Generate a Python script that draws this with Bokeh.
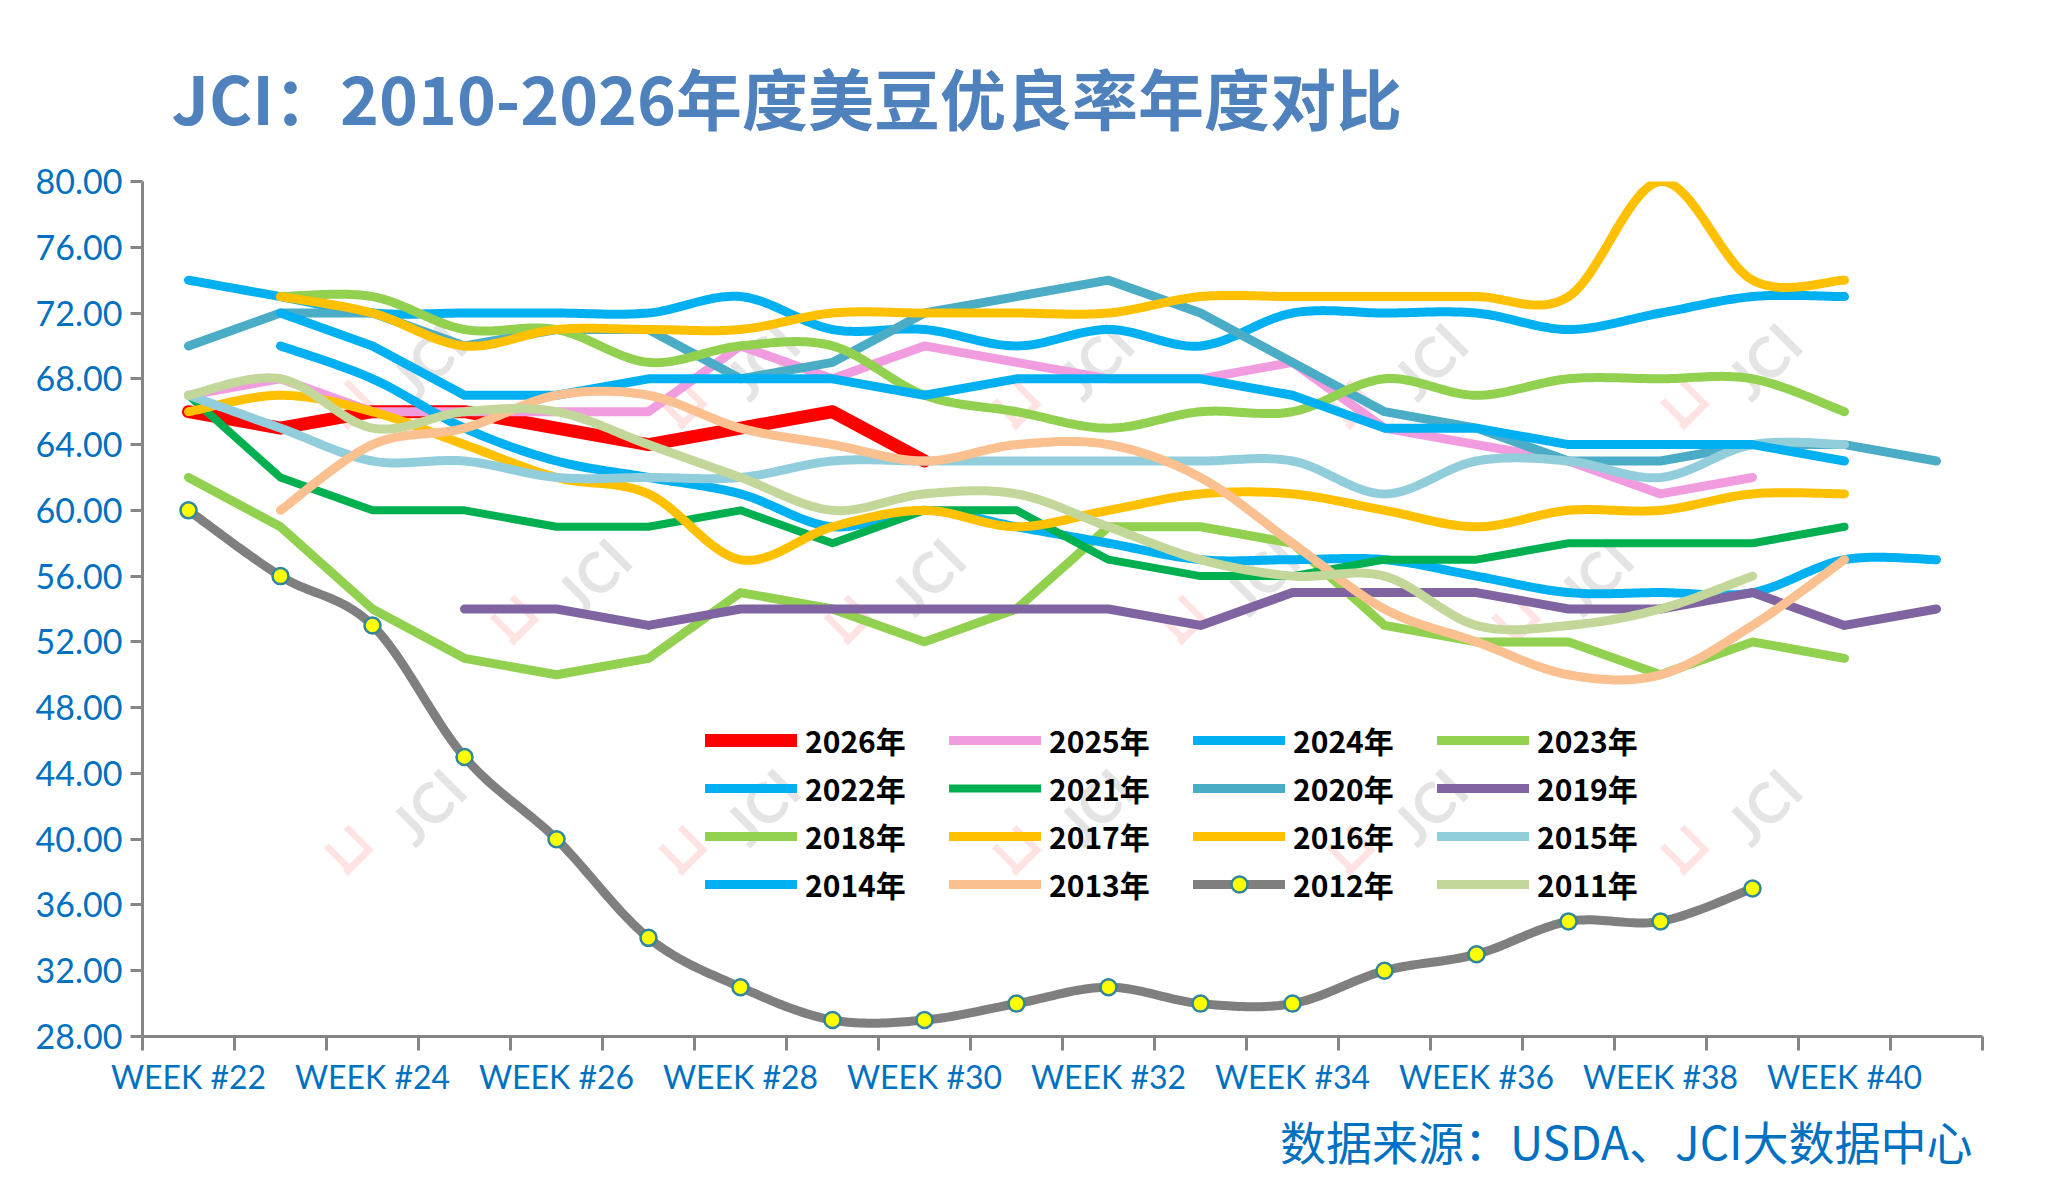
import numpy as np
from bokeh.plotting import figure
from bokeh.models import FixedTicker, Legend, LegendItem, NumeralTickFormatter, Range1d, Title
from bokeh.core.properties import value
from bokeh.embed import file_html
from bokeh.resources import INLINE

# ---------------- data ----------------
weeks = ["WEEK #22", "WEEK #23", "WEEK #24", "WEEK #25", "WEEK #26", "WEEK #27", "WEEK #28",
         "WEEK #29", "WEEK #30", "WEEK #31", "WEEK #32", "WEEK #33", "WEEK #34", "WEEK #35",
         "WEEK #36", "WEEK #37", "WEEK #38", "WEEK #39", "WEEK #40", "WEEK #41"]
N = None
y2026 = [66, 65, 66, 66, 65, 64, 65, 66, 63, N, N, N, N, N, N, N, N, N, N, N]
y2025 = [67, 68, 66, 66, 66, 66, 70, 68, 70, 69, 68, 68, 69, 65, 64, 63, 61, 62, N, N]
y2024 = [74, 73, 72, 72, 72, 72, 73, 71, 71, 70, 71, 70, 72, 72, 72, 71, 72, 73, 73, N]
y2023 = [62, 59, 54, 51, 50, 51, 55, 54, 52, 54, 59, 59, 58, 53, 52, 52, 50, 52, 51, N]
y2022 = [N, 70, 68, 65, 63, 62, 61, 59, 60, 59, 58, 57, 57, 57, 56, 55, 55, 55, 57, 57]
y2021 = [67, 62, 60, 60, 59, 59, 60, 58, 60, 60, 57, 56, 56, 57, 57, 58, 58, 58, 59, N]
y2020 = [70, 72, 72, 70, 71, 71, 68, 69, 72, 73, 74, 72, 69, 66, 65, 63, 63, 64, 64, 63]
y2019 = [N, N, N, 54, 54, 53, 54, 54, 54, 54, 54, 53, 55, 55, 55, 54, 54, 55, 53, 54]
y2018 = [N, 73, 73, 71, 71, 69, 70, 70, 67, 66, 65, 66, 66, 68, 67, 68, 68, 68, 66, N]
y2017 = [66, 67, 66, 64, 62, 61, 57, 59, 60, 59, 60, 61, 61, 60, 59, 60, 60, 61, 61, N]
y2016 = [N, 73, 72, 70, 71, 71, 71, 72, 72, 72, 72, 73, 73, 73, 73, 73, 80, 74, 74, N]
y2015 = [67, 65, 63, 63, 62, 62, 62, 63, 63, 63, 63, 63, 63, 61, 63, 63, 62, 64, 64, N]
y2014 = [N, 72, 70, 67, 67, 68, 68, 68, 67, 68, 68, 68, 67, 65, 65, 64, 64, 64, 63, N]
y2013 = [N, 60, 64, 65, 67, 67, 65, 64, 63, 64, 64, 62, 58, 54, 52, 50, 50, 53, 57, N]
y2012 = [60, 56, 53, 45, 40, 34, 31, 29, 29, 30, 31, 30, 30, 32, 33, 35, 35, 37, N, N]
y2011 = [67, 68, 65, 66, 66, 64, 62, 60, 61, 61, 59, 57, 56, 56, 53, 53, 54, 56, N, N]

y_ticks = [28, 32, 36, 40, 44, 48, 52, 56, 60, 64, 68, 72, 76, 80]
title_text = "JCI：2010-2026年度美豆优良率年度对比"
source_text = "数据来源：USDA、JCI大数据中心"

# (label, values, colour, width, smoothed)
series = [
    ("2026年", y2026, "#FF0000", 13, False),
    ("2025年", y2025, "#F09CDF", 9, False),
    ("2024年", y2024, "#00B0F0", 9, True),
    ("2023年", y2023, "#92D050", 9, False),
    ("2022年", y2022, "#00B0F0", 9, True),
    ("2021年", y2021, "#00B050", 8, False),
    ("2020年", y2020, "#4BACC6", 9, False),
    ("2019年", y2019, "#8064A2", 9, False),
    ("2018年", y2018, "#92D050", 9, True),
    ("2017年", y2017, "#FFC000", 9, True),
    ("2016年", y2016, "#FFC000", 9, True),
    ("2015年", y2015, "#92CDDC", 9, True),
    ("2014年", y2014, "#00B0F0", 9, False),
    ("2013年", y2013, "#FAC090", 9, True),
    ("2012年", y2012, "#7F7F7F", 9, True),
    ("2011年", y2011, "#C4D79B", 9, True),
]

# watermark placement (decoration only)
wm_x = [2.6, 6.23, 9.86, 13.49, 17.12, 4.4, 8.03, 11.66, 15.29, 2.6, 6.23, 9.86, 13.49, 17.12]
wm_y = [69.1, 69.1, 69.1, 69.1, 69.1, 56.0, 56.0, 56.0, 56.0, 42.0, 42.0, 42.0, 42.0, 42.0]


def smooth_curve(xs, ys, n=24):
    """Excel-like smoothed line (cubic Bezier, Catmull-Rom control points)."""
    m = len(xs)
    if m < 3:
        return list(xs), list(ys)
    ox, oy = [], []
    for i in range(m - 1):
        x0, y0 = xs[max(i - 1, 0)], ys[max(i - 1, 0)]
        x1, y1 = xs[i], ys[i]
        x2, y2 = xs[i + 1], ys[i + 1]
        x3, y3 = xs[min(i + 2, m - 1)], ys[min(i + 2, m - 1)]
        c1x, c1y = x1 + (x2 - x0) / 6.0, y1 + (y2 - y0) / 6.0
        c2x, c2y = x2 - (x3 - x1) / 6.0, y2 - (y3 - y1) / 6.0
        t = np.linspace(0, 1, n, endpoint=(i == m - 2))
        a, b, c, d = (1 - t) ** 3, 3 * (1 - t) ** 2 * t, 3 * (1 - t) * t ** 2, t ** 3
        ox.extend(a * x1 + b * c1x + c * c2x + d * x2)
        oy.extend(a * y1 + b * c1y + c * c2y + d * y2)
    return ox, oy


# ---------------- figure ----------------
p = figure(width=2045, height=1181, output_backend="svg", toolbar_location=None,
           x_range=Range1d(-0.5, 19.5), y_range=Range1d(28, 80),
           min_border_left=142, min_border_right=63, min_border_top=181, min_border_bottom=145)
p.outline_line_color = None
p.grid.visible = False
p.background_fill_color = "white"
p.border_fill_color = "white"

# title and source note
p.title.text = title_text
p.title.align = "left"
p.title.offset = 29
p.title.standoff = 75
p.title.vertical_align = "bottom"
p.title.text_font = "Noto Sans CJK SC"
p.title.text_font_style = "bold"
p.title.text_font_size = "66px"
p.title.text_color = "#4F81BD"

p.add_layout(Title(text=source_text, align="right", offset=10, standoff=12,
                   text_font="Noto Sans CJK SC", text_font_style="normal",
                   text_font_size="46px", text_color="#0070C0"), "below")

# watermarks
p.text(x=wm_x, y=wm_y, text=["JCI"] * len(wm_x), angle=45, angle_units="deg",
       text_color="#D9D9D9", text_alpha=0.7, text_font=value("Lato"), text_font_size="56px",
       text_font_style="bold", text_align="center", text_baseline="middle")
p.text(x=[v - 0.83 for v in wm_x], y=[v - 2.44 for v in wm_y], text=["コ"] * len(wm_x),
       angle=-45, angle_units="deg", text_color="#FFD5D5", text_alpha=0.7,
       text_font=value("Noto Sans CJK SC"), text_font_size="50px", text_font_style="bold",
       text_align="center", text_baseline="middle")

items = []
for label, vals, color, width, smooth in series:
    xs = [i for i, v in enumerate(vals) if v is not None]
    ys = [v for v in vals if v is not None]
    if smooth:
        lx, ly = smooth_curve(xs, ys)
    else:
        lx, ly = xs, ys
    r = p.line(lx, ly, line_color=color, line_width=width, line_cap="round", line_join="round")
    rends = [r]
    if label == "2012年":
        s = p.scatter(xs, ys, marker="circle", size=16, fill_color="#FFFF00",
                      line_color="#31859C", line_width=2.5)
        rends.append(s)
    items.append(LegendItem(label=label, renderers=rends))

legend = Legend(items=items, orientation="horizontal", ncols=4, location=(563, 130),
                glyph_width=92, glyph_height=40, label_height=40, label_width=140,
                label_standoff=8, spacing=4, padding=0, margin=0,
                label_text_font="Noto Sans CJK SC", label_text_font_style="bold",
                label_text_font_size="30px", label_text_color="#000000",
                border_line_color=None, background_fill_alpha=0)
p.add_layout(legend, "center")

# axes
axis_col = "#868686"
xa = p.xaxis[0]
xa.ticker = FixedTicker(ticks=[0, 2, 4, 6, 8, 10, 12, 14, 16, 18],
                        minor_ticks=[k - 0.5 for k in range(len(weeks) + 1)])
xa.major_label_overrides = {i: weeks[i] for i in range(0, len(weeks), 2)}
xa.major_tick_out = 0
xa.major_tick_in = 0
xa.minor_tick_out = 14
xa.minor_tick_in = 0
xa.minor_tick_line_color = axis_col
xa.minor_tick_line_width = 3
xa.axis_line_color = axis_col
xa.axis_line_width = 3
xa.major_label_standoff = 6
xa.major_label_text_font = "Lato"
xa.major_label_text_font_size = "32px"
xa.major_label_text_color = "#0070C0"

ya = p.yaxis[0]
ya.ticker = FixedTicker(ticks=y_ticks)
ya.formatter = NumeralTickFormatter(format="0.00")
ya.major_tick_out = 12
ya.major_tick_in = 0
ya.major_tick_line_color = axis_col
ya.major_tick_line_width = 3
ya.minor_tick_line_color = None
ya.axis_line_color = axis_col
ya.axis_line_width = 3
ya.major_label_standoff = 8
ya.major_label_text_font = "Lato"
ya.major_label_text_font_size = "34px"
ya.major_label_text_color = "#0070C0"

open("out.html", "w").write(file_html(p, INLINE))
